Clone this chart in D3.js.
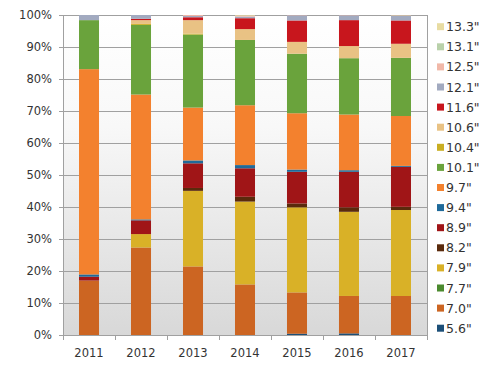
<!DOCTYPE html>
<html>
<head>
<meta charset="utf-8">
<script src="https://cdn.jsdelivr.net/npm/d3@7"></script>
<style>
  body { margin: 0; background: #fff; }
  text { font-family: "DejaVu Sans", Verdana, sans-serif; fill: #333; }
</style>
</head>
<body>
<svg id="chart"></svg>
<script>
// years on the x axis
const years = ["2011", "2012", "2013", "2014", "2015", "2016", "2017"];

// screen sizes, bottom of the stack first
const sizes = ["5.6\"", "7.0\"", "7.7\"", "7.9\"", "8.2\"", "8.9\"", "9.4\"", "9.7\"",
  "10.1\"", "10.4\"", "10.6\"", "11.6\"", "12.1\"", "12.5\"", "13.1\"", "13.3\""];

const sizeColors = ["#1c4f78", "#cc6522", "#4b8a2e", "#d9b127", "#5a2a0c", "#a01517",
  "#1f6a9a", "#f3812e", "#6aa33c", "#c9ae22", "#e9c284", "#c8161d",
  "#a2aac0", "#f1b8a8", "#b9d1aa", "#e8dca2"];

// share (%) per year, one list per size
const v56  = [0, 0, 0, 0, 0.4, 0.5, 0];
const v70  = [17, 27.4, 21.4, 15.8, 12.9, 11.7, 12.2];
const v77  = [0, 0, 0, 0, 0, 0, 0];
const v79  = [0, 4.2, 23.6, 25.9, 26.6, 26.3, 26.9];
const v82  = [0, 0, 0.9, 1.5, 1.2, 1.4, 1.0];
const v89  = [1.2, 4.3, 7.7, 8.9, 9.9, 11.1, 12.5];
const v94  = [0.7, 0.3, 0.9, 1.0, 0.7, 0.5, 0.3];
const v97  = [64.1, 39.1, 16.5, 18.7, 17.6, 17.4, 15.6];
const v101 = [15.3, 21.8, 22.8, 20.4, 18.6, 17.6, 18.2];
const v104 = [0, 0.3, 0.3, 0, 0, 0, 0];
const v106 = [0, 1.2, 4.2, 3.4, 3.7, 3.8, 4.4];
const v116 = [0, 0.4, 0.9, 3.4, 6.7, 8.1, 7.3];
const v121 = [1.6, 1.2, 0.4, 0.5, 1.6, 1.5, 1.5];
const v125 = [0, 0, 0.3, 0.3, 0.1, 0.1, 0.1];
const v131 = [0, 0, 0, 0, 0, 0, 0];
const v133 = [0, 0, 0, 0.2, 0, 0, 0.1];

const seriesValues = [v56, v70, v77, v79, v82, v89, v94, v97,
  v101, v104, v106, v116, v121, v125, v131, v133];

const yTicks = [0, 0.1, 0.2, 0.3, 0.4, 0.5, 0.6, 0.7, 0.8, 0.9, 1];

var width = 504, height = 369;
var plot = {left: 63, right: 427, top: 15, bottom: 335};

var svg = d3.select("#chart").attr("width", width).attr("height", height);

// build rows for the stack
var rows = years.map(function(y, i) {
  var r = {year: y};
  sizes.forEach(function(s, k) { r[s] = seriesValues[k][i]; });
  return r;
});

var stack = d3.stack().keys(sizes).offset(d3.stackOffsetExpand);
var layers = stack(rows);

var x = d3.scaleBand()
  .domain(years)
  .range([plot.left, plot.right])
  .paddingInner(0.615)
  .paddingOuter(0.3077);

var y = d3.scaleLinear().domain([0, 1]).range([plot.bottom, plot.top]);

// plot background gradient
var defs = svg.append("defs");
var grad = defs.append("linearGradient").attr("id", "bg")
  .attr("x1", 0).attr("y1", 0).attr("x2", 0).attr("y2", 1);
grad.append("stop").attr("offset", "0%").attr("stop-color", "#ffffff");
grad.append("stop").attr("offset", "35%").attr("stop-color", "#f8f8f8");
grad.append("stop").attr("offset", "100%").attr("stop-color", "#d8d8d8");

svg.append("rect")
  .attr("x", plot.left).attr("y", plot.top)
  .attr("width", plot.right - plot.left).attr("height", plot.bottom - plot.top)
  .attr("fill", "url(#bg)");

// gridlines + y ticks
svg.append("g").selectAll("line")
  .data(yTicks)
  .enter()
  .append("line")
  .attr("x1", plot.left - 4).attr("x2", plot.right)
  .attr("y1", function(d) { return Math.round(y(d)) + 0.5; })
  .attr("y2", function(d) { return Math.round(y(d)) + 0.5; })
  .attr("stroke", "#a0a0a0").attr("stroke-width", 1);

// y labels
svg.append("g").selectAll("text")
  .data(yTicks)
  .enter()
  .append("text")
  .attr("x", plot.left - 11)
  .attr("y", function(d) { return y(d); })
  .attr("dy", "0.36em")
  .attr("text-anchor", "end")
  .attr("font-size", "11.5px")
  .text(function(d) { return d3.format(".0%")(d); });

// left and right frame lines
svg.append("line")
  .attr("x1", plot.left + 0.5).attr("x2", plot.left + 0.5)
  .attr("y1", plot.top).attr("y2", plot.bottom + 5)
  .attr("stroke", "#a0a0a0");
svg.append("line")
  .attr("x1", plot.right + 0.5).attr("x2", plot.right + 0.5)
  .attr("y1", plot.top).attr("y2", plot.bottom + 5)
  .attr("stroke", "#a0a0a0");

// x ticks at band boundaries
var step = x.step();
svg.append("g").selectAll("line")
  .data(d3.range(1, years.length))
  .enter()
  .append("line")
  .attr("x1", function(i) { return Math.round(plot.left + i * step) + 0.5; })
  .attr("x2", function(i) { return Math.round(plot.left + i * step) + 0.5; })
  .attr("y1", plot.bottom).attr("y2", plot.bottom + 5)
  .attr("stroke", "#a0a0a0");

// bars
svg.append("g").selectAll("g")
  .data(layers)
  .enter()
  .append("g")
  .attr("fill", function(d, i) { return sizeColors[i]; })
  .selectAll("rect")
  .data(function(d) { return d; })
  .enter()
  .append("rect")
  .attr("x", function(d) { return x(d.data.year); })
  .attr("width", x.bandwidth())
  .attr("y", function(d) { return y(d[1]); })
  .attr("height", function(d) { return y(d[0]) - y(d[1]); });

// year labels
svg.append("g").selectAll("text")
  .data(years)
  .enter()
  .append("text")
  .attr("x", function(d) { return x(d) + x.bandwidth() / 2; })
  .attr("y", 357)
  .attr("text-anchor", "middle")
  .attr("font-size", "11.5px")
  .text(function(d) { return d; });

// legend, top item is the last size
var legendItems = sizes.map(function(s, i) { return {label: s, color: sizeColors[i]}; }).reverse();
var legend = svg.append("g").selectAll("g")
  .data(legendItems)
  .enter()
  .append("g")
  .attr("transform", function(d, i) { return "translate(437," + (26.7 + i * 20.1) + ")"; });

legend.append("rect")
  .attr("x", 0).attr("y", -3.5)
  .attr("width", 7).attr("height", 7)
  .attr("fill", function(d) { return d.color; });

legend.append("text")
  .attr("x", 9).attr("y", 0).attr("dy", "0.36em")
  .attr("font-size", "12.5px")
  .text(function(d) { return d.label; });
</script>
</body>
</html>
